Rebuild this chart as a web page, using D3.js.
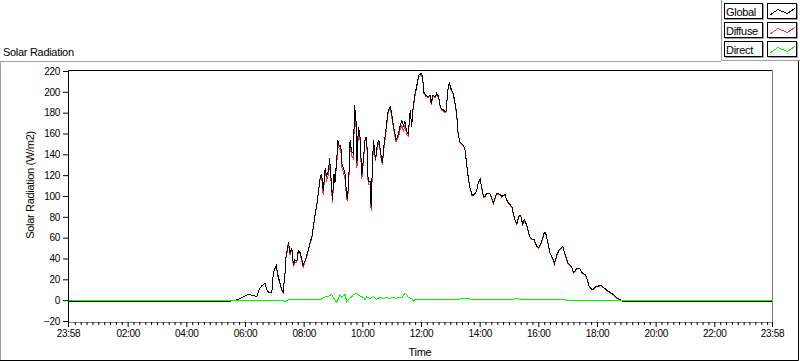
<!DOCTYPE html>
<html>
<head>
<meta charset="utf-8" />
<title>Solar Radiation</title>
<script src="https://cdn.jsdelivr.net/npm/d3@7/dist/d3.min.js"></script>
<style>
  body { margin: 0; background: #fff; }
  svg { display: block; font-family: "Liberation Sans", Arial, sans-serif; font-size: 11px; }
  text { fill: #000; letter-spacing: -0.3px; }
</style>
</head>
<body>
<script>
// minutes since midnight (-2 = 23:58 the day before)
var times = [
  -2, 330, 340, 350, 367, 377, 384, 389, 394, 401,
  404, 408, 415, 418, 424, 428, 435, 438, 442, 444,
  449, 452, 456, 459, 462, 466, 469, 473, 479, 485,
  490, 497, 500, 503, 507, 510, 514, 517, 520, 524,
  527, 531, 533, 535, 539, 542, 544, 548, 550, 553,
  556, 558, 561, 565, 568, 570, 573, 575, 578, 582,
  584, 587, 589, 592, 595, 599, 602, 606, 609, 612,
  616, 618, 621, 623, 627, 631, 634, 638, 641, 644,
  649, 653, 657, 660, 663, 669, 674, 677, 681, 684,
  687, 691, 694, 698, 701, 704, 708, 711, 715, 720,
  723, 726, 730, 735, 739, 741, 744, 749, 752, 756,
  759, 762, 766, 771, 775, 778, 781, 786, 790, 793,
  796, 800, 807, 810, 814, 817, 820, 824, 827, 831,
  834, 837, 841, 844, 848, 851, 854, 861, 868, 871,
  875, 882, 885, 892, 895, 899, 906, 909, 912, 916,
  921, 924, 928, 931, 936, 942, 947, 951, 957, 961,
  967, 972, 975, 979, 984, 989, 993, 998, 1003, 1010,
  1015, 1021, 1028, 1032, 1039, 1045, 1049, 1056, 1059, 1064,
  1069, 1073, 1078, 1083, 1088, 1093, 1100, 1107, 1113, 1120,
  1127, 1133, 1438
];
var globalW = [
  -0.5, -0.5, 0.5, 2, 6, 5, 4, 11, 14, 17,
  11, 8, 8, 27, 34, 23, 11, 8, 27, 42,
  56, 46, 50, 34, 39, 38, 48, 46, 34, 41,
  50, 62, 71, 82, 93, 103, 119, 121, 105, 127,
  119, 125, 137, 125, 97, 122, 113, 138, 154, 148,
  149, 132, 128, 121, 100, 98, 125, 154, 143, 141,
  188, 175, 132, 167, 160, 121, 135, 157, 156, 114,
  114, 90, 135, 154, 135, 151, 154, 141, 132, 148,
  167, 183, 186, 180, 170, 154, 160, 167, 173, 168,
  172, 162, 160, 183, 167, 186, 199, 205, 216, 218,
  216, 200, 197, 196, 197, 189, 197, 196, 199, 196,
  188, 184, 183, 181, 202, 210, 204, 199, 189, 180,
  160, 152, 149, 145, 129, 117, 109, 102, 101, 103,
  106, 113, 117, 109, 100, 100, 103, 103, 94, 98,
  103, 102, 100, 102, 97, 94, 90, 84, 78, 74,
  82, 82, 73, 78, 73, 62, 59, 59, 52, 51,
  57, 65, 65, 57, 46, 41, 36, 44, 49, 52,
  44, 36, 33, 27, 31, 31, 27, 25, 22, 14,
  11, 11, 14, 14, 15, 13, 10, 8, 6, 3,
  1, -0.5, -0.5
];
var diffuseW = [
  -0.5, -0.5, 0.5, 2, 6, 5, 4, 11, 14, 17,
  11, 8, 8, 27, 33, 22, 10, 7, 26, 41,
  54, 44, 49, 32, 37, 37, 46, 45, 32, 40,
  49, 61, 70, 81, 92, 102, 118, 118, 101, 124,
  116, 121, 131, 122, 94, 120, 113, 133, 151, 145,
  145, 128, 124, 116, 97, 96, 122, 150, 139, 136,
  182, 169, 127, 163, 157, 117, 132, 156, 153, 111,
  112, 86, 132, 150, 134, 148, 152, 138, 130, 145,
  164, 181, 184, 177, 168, 152, 157, 164, 168, 162,
  169, 159, 158, 182, 167, 185, 197, 204, 215, 216,
  215, 199, 196, 195, 196, 188, 196, 195, 198, 195,
  187, 183, 182, 180, 201, 209, 203, 198, 188, 178,
  159.5, 151.5, 148.5, 144.5, 128.5, 116.5, 108.5, 101, 100.5, 102.5,
  105.5, 112.5, 116.5, 108.5, 99, 99.5, 102.5, 102.5, 93, 97.5,
  102.5, 101.5, 99.5, 101.5, 96.5, 93.5, 89.5, 83, 77.5, 73,
  81.5, 81.5, 72, 77.5, 72.5, 61.5, 58.5, 58.5, 51.5, 50,
  56.5, 64.5, 64.5, 56.5, 45.5, 40.5, 35, 43.5, 48.5, 51.5,
  43.5, 35, 32.5, 26, 30.5, 30.5, 26.5, 24.5, 21.5, 13.5,
  10.5, 10.5, 13.5, 13.5, 14.5, 12.5, 9.5, 7.5, 5.5, 2.5,
  0.5, -0.5, -0.5
];
var directTimes = [
  -2, 425, 442, 447, 459, 507, 514, 524, 531, 537,
  541, 548, 554, 558, 561, 565, 568, 571, 578, 582,
  589, 592, 599, 602, 606, 609, 616, 623, 629, 636,
  643, 650, 657, 663, 670, 674, 681, 687, 691, 694,
  701, 704, 708, 718, 745, 773, 795, 817, 827, 860,
  909, 916, 929, 957, 979, 1012, 1016, 1438
];
var directW = [
  0.5, 0.5, -0.5, 0.5, 1.5, 1.5, 1, 3.5, 4, 6,
  3, -2, 6, 3, 4.5, 6, -1, 1, 3.5, 6,
  7, 5, 4, 3, 1, 3.5, 2, 4, 1, 3.5,
  2, 3, 2, 3.5, 2, 3.5, 3, 7, 6, 3,
  2, -0.5, 1, 1.5, 1, 1, 1.5, 2, 1, 1.5,
  1.5, 2, 1, 1.5, 1, 1.5, 0.5, 0.5
];
var yTicks = [-20, 0, 20, 40, 60, 80, 100, 120, 140, 160, 180, 200, 220];
var xMajor = [-2, 120, 240, 360, 480, 600, 720, 840, 960, 1080, 1200, 1320, 1438];
var xLabels = ["23:58", "02:00", "04:00", "06:00", "08:00", "10:00", "12:00",
               "14:00", "16:00", "18:00", "20:00", "22:00", "23:58"];
var legendNames = ["Global", "Diffuse", "Direct"];
var colors = ["#000000", "#ff3030", "#00ff00"];

if (times.length != globalW.length || times.length != diffuseW.length || directTimes.length != directW.length)
    throw new Error("length mismatch " + times.length + " " + globalW.length + " " + diffuseW.length + " " + directTimes.length + " " + directW.length);

var L = 68, R = 772, T = 70, B = 322;

var svg = d3.select("body").append("svg")
    .attr("width", 800)
    .attr("height", 361);

svg.append("rect").attr("width", 800).attr("height", 361).attr("fill", "#fff");

var x = d3.scaleLinear().domain([-2, 1438]).range([L, R]);
var y = d3.scaleLinear().domain([-20, 220]).range([321.5, 71.5]);

// outer frame
svg.append("path").attr("d", "M0.5,360 V61.5 H721").attr("fill", "none").attr("stroke", "#a0a0a0");
svg.append("path").attr("d", "M0,360.5 H798.5 V61").attr("fill", "none").attr("stroke", "#000");

svg.append("text").attr("x", 3).attr("y", 56).text("Solar Radiation");

// plot area
var clip = svg.append("clipPath").attr("id", "clip")
    .append("rect").attr("x", L + 1).attr("y", T + 1).attr("width", R - L - 1).attr("height", B - T - 1);

var plot = svg.append("g").attr("clip-path", "url(#clip)");

var line = d3.line()
    .x(function (d) { return x(d[0]); })
    .y(function (d) { return y(d[1]); });

var series = [
    { name: "Diffuse", color: colors[1], pts: d3.zip(times, diffuseW) },
    { name: "Global", color: colors[0], pts: d3.zip(times, globalW) },
    { name: "Direct", color: colors[2], pts: d3.zip(directTimes, directW) }
];

plot.selectAll("path.s")
    .data(series)
    .enter()
    .append("path")
    .attr("class", "s")
    .attr("d", function (d) { return line(d.pts); })
    .attr("fill", "none")
    .attr("stroke", function (d) { return d.color; })
    .attr("stroke-width", 1)
    .attr("shape-rendering", "crispEdges");

// plot border
svg.append("path").attr("d", "M" + (L + 0.5) + "," + B + " V" + (T + 0.5) + " H" + (R + 1))
    .attr("fill", "none").attr("stroke", "#000");
svg.append("path").attr("d", "M" + (L + 1) + "," + (B + 0.5) + " H" + (R + 0.5) + " V" + T)
    .attr("fill", "none").attr("stroke", "#808080");

// axes
var yAxis = d3.axisLeft(y).tickValues(yTicks).tickSize(5).tickPadding(3).offset(0);
var gy = svg.append("g").attr("transform", "translate(" + L + ",0)").call(yAxis);
gy.select(".domain").remove();
gy.selectAll("text").attr("font-family", null).attr("font-size", null);

var xMinor = d3.range(12, 1438, 12).filter(function (m) { return m % 120 != 0; });
var gxm = svg.append("g").attr("transform", "translate(0," + B + ")")
    .call(d3.axisBottom(x).tickValues(xMinor).tickSize(3).tickFormat(""));
gxm.select(".domain").remove();

var gx = svg.append("g").attr("transform", "translate(0," + B + ")")
    .call(d3.axisBottom(x).tickValues(xMajor).tickSize(5).tickPadding(3)
        .tickFormat(function (d, i) { return xLabels[i]; }));
gx.select(".domain").remove();
gx.selectAll("text").attr("font-family", null).attr("font-size", null);

svg.selectAll(".tick line").attr("stroke", "#000");

svg.append("text").attr("x", (L + R) / 2).attr("y", 356).attr("text-anchor", "middle").text("Time");
svg.append("text")
    .attr("transform", "translate(34,185) rotate(-90)")
    .attr("text-anchor", "middle")
    .text("Solar Radiation (W/m2)");

// legend
var lg = svg.append("g");
lg.append("rect").attr("x", 721.5).attr("y", -1).attr("width", 80).attr("height", 61.5)
    .attr("fill", "#fff").attr("stroke", "#a0a0a0");

var item = lg.selectAll("g.item")
    .data(legendNames)
    .enter()
    .append("g")
    .attr("class", "item")
    .attr("transform", function (d, i) { return "translate(0," + (i * 19) + ")"; });

item.append("path").attr("d", "M725,19.5 H763.5 V4").attr("fill", "none").attr("stroke", "#a0a0a0");
item.append("rect").attr("x", 724.5).attr("y", 3.5).attr("width", 38).attr("height", 15)
    .attr("fill", "#fff").attr("stroke", "#000");
item.append("text").attr("x", 726).attr("y", 15.5).text(function (d) { return d; });

item.append("path").attr("d", "M769,19.5 H797.5 V4").attr("fill", "none").attr("stroke", "#a0a0a0");
item.append("rect").attr("x", 767.5).attr("y", 3.5).attr("width", 29).attr("height", 15)
    .attr("fill", "#fff").attr("stroke", "#000");
item.append("path")
    .attr("d", "M770,15 L778,9.5 L787,13.5 L795,8.5")
    .attr("fill", "none")
    .attr("stroke", function (d, i) { return colors[i]; })
    .attr("shape-rendering", "crispEdges");
</script>
</body>
</html>
